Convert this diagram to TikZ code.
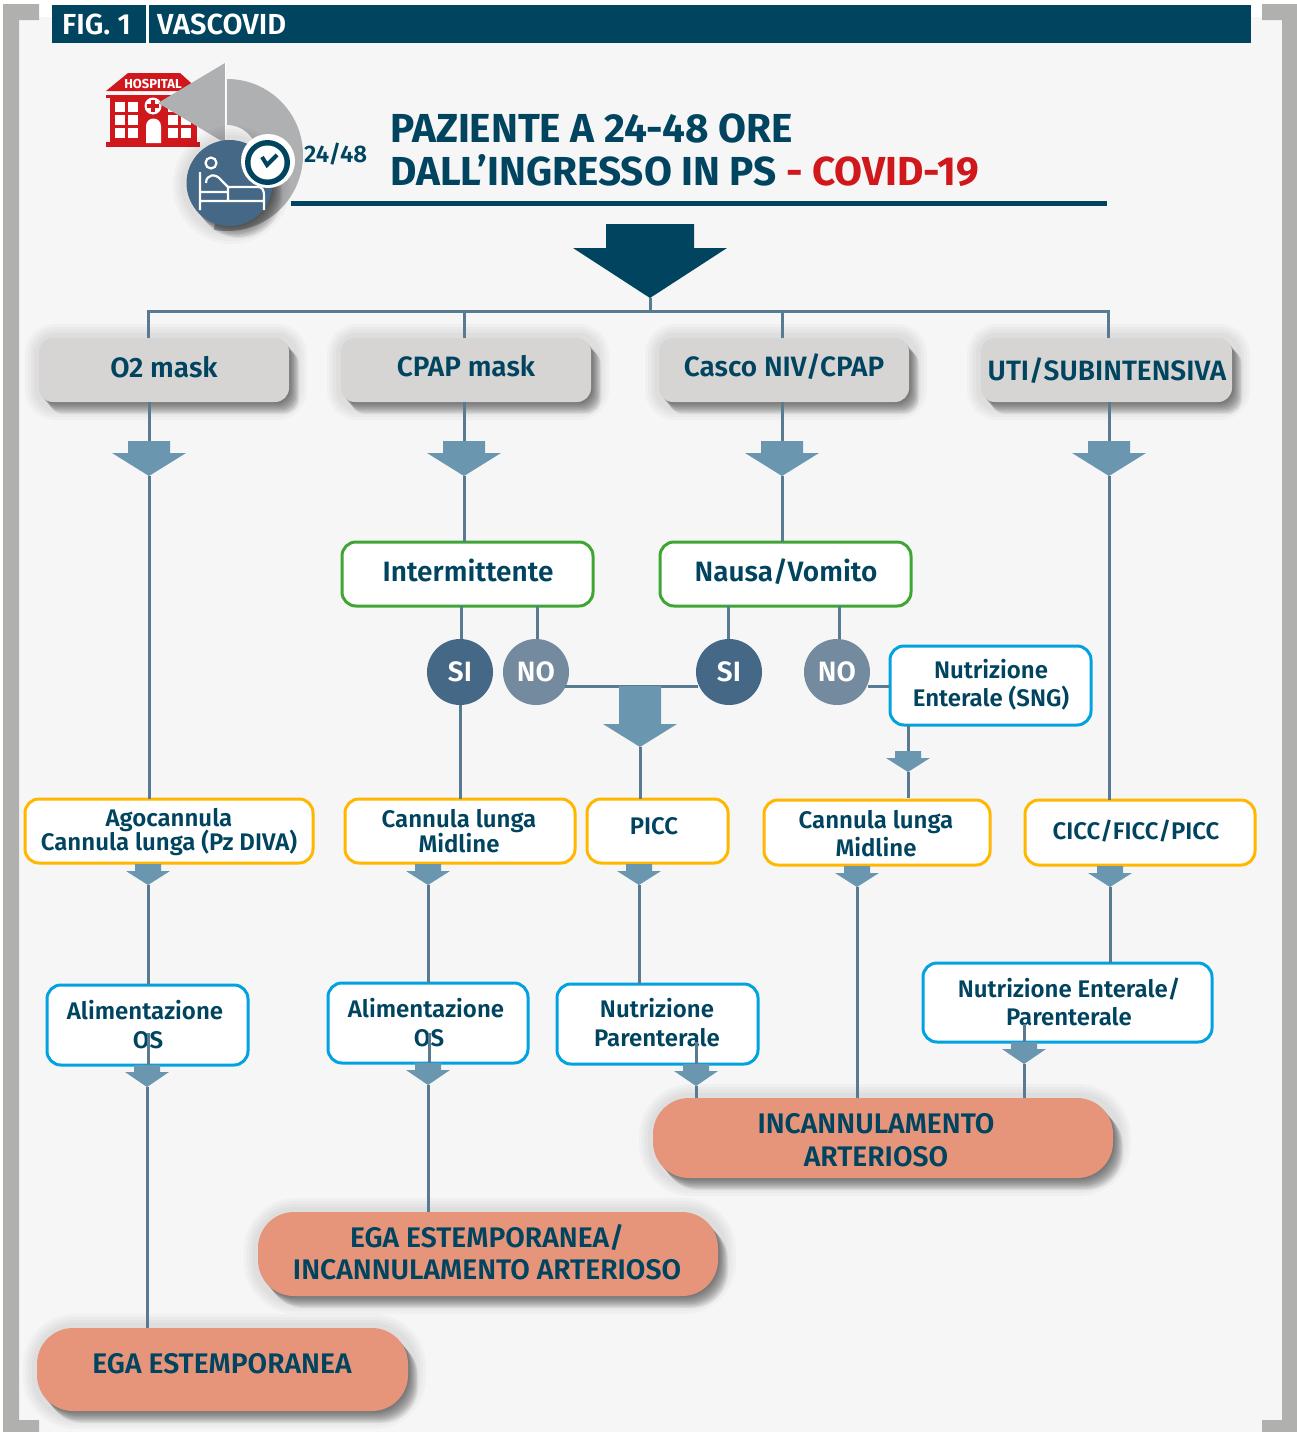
\documentclass[tikz,border=0pt]{standalone}
\usepackage{fontspec}
\setmainfont{Fira Sans}[BoldFont={Fira Sans SemiBold}]
\newfontfamily\heavy{Fira Sans Bold}
\lineskiplimit=-100pt
\definecolor{navy}{HTML}{004460}
\definecolor{conn}{HTML}{587B92}
\definecolor{barrow}{HTML}{6A96AF}
\definecolor{bgpage}{HTML}{F6F6F6}
\definecolor{bracket}{HTML}{B0B0AE}
\definecolor{greybox}{HTML}{D6D5D4}
\definecolor{salmon}{HTML}{E6957A}
\definecolor{okgreen}{HTML}{3FA535}
\definecolor{sky}{HTML}{00A3E0}
\definecolor{amber}{HTML}{FFB700}
\definecolor{circA}{HTML}{446885}
\definecolor{circB}{HTML}{748A9F}
\definecolor{hosp}{HTML}{CF171C}
\definecolor{arrowgrey}{HTML}{AEB0B1}
\newcommand{\fs}[2]{\gdef\curfs{\fontsize{#1}{#2}\selectfont}}
\fs{24}{24}
\tikzset{
  x=1pt,y=-1pt,
  glowlayer/.style={preaction={draw=black,fill=none,draw opacity=.022,line width=#1,transform canvas={shift={(2pt,-2pt)}}}},
  droplayer/.style 2 args={preaction={draw=none,fill=black,fill opacity=.055,transform canvas={shift={(#1pt,-#2pt)}}}},
  softshadow/.style={glowlayer=32pt,glowlayer=26pt,glowlayer=20pt,glowlayer=14pt,
    droplayer={10}{12},droplayer={9}{10.8},droplayer={8}{9.6},droplayer={7}{8.4},droplayer={6}{7.2},
    droplayer={5}{6},droplayer={4}{4.8},droplayer={3}{3.6},droplayer={2}{2.4},droplayer={1}{1.2}},
  anybox/.style={rectangle,rounded corners=14pt,outer sep=0pt,inner sep=0pt,line width=3pt,fill=white},
  greyb/.style={anybox,draw=none,fill=greybox,softshadow},
  greenb/.style={anybox,draw=okgreen},
  skyb/.style={anybox,draw=sky},
  amberb/.style={anybox,draw=amber},
  salmonb/.style={anybox,draw=none,fill=salmon,rounded corners=36pt,softshadow},
  lab/.style={align=center,inner sep=0pt,text=navy,font=\bfseries\curfs},
  wire/.style={draw=conn,line width=3pt},
  roundA/.style={circle,minimum size=66pt,inner sep=0pt,outer sep=0pt,fill=circA,text=white,font=\bfseries\fontsize{28}{28}\selectfont},
  roundB/.style={roundA,fill=circB},
  headlab/.style={anchor=base west,inner sep=0pt,text=white,font=\bfseries\fontsize{29}{29}\selectfont},
  titlelab/.style={anchor=base west,inner sep=0pt,text=navy,font=\fontsize{40.5}{40.5}\heavy},
}
% \tbox{style}{name}(x1,y1,x2,y2)(tx,ty){text}
\def\tbox#1#2(#3,#4,#5,#6)(#7,#8)#9{%
  \node[#1,minimum width={(#5-#3)*1pt},minimum height={(#6-#4)*1pt}] (#2) at ({(#3+#5)/2},{(#4+#6)/2}) {};
  \node[lab] (#2-t) at (#7,#8) {#9};}
% \barr[color]{name}{cx}{top}{shoulder}{tip}{shaft half}{head half}
\newcommand{\barr}[8][barrow]{%
  \fill[#1] ({#3-#7},#4) -- ({#3+#7},#4) -- ({#3+#7},#5) -- ({#3+#8},#5) -- (#3,#6) -- ({#3-#8},#5) -- ({#3-#7},#5) -- cycle;
  \coordinate (#2) at (#3,#4);
  \coordinate (#2-tip) at (#3,#6);}
\begin{document}
\begin{tikzpicture}
\useasboundingbox (0,0) rectangle (1297,1432);
\fill[white] (0,0) rectangle (1297,1432);
\fill[bgpage] (19,17) rectangle (1282,1432);
% corner brackets
\fill[bracket] (39,4) -- (3,4) -- (3,1432) -- (39,1432) -- (39,1420) -- (19,1420) -- (19,20) -- (39,20) -- cycle;
\fill[bracket] (1262,4) -- (1297,4) -- (1297,1432) -- (1262,1432) -- (1262,1420) -- (1282,1420) -- (1282,20) -- (1262,20) -- cycle;
% header
\fill[navy] (52,5) rectangle (1251,43);
\fill[white] (146,5) rectangle (148.5,43);
\node[headlab] (figlab) at (62,34) {FIG. 1};
\node[headlab] (figname) at (157,34) {VASCOVID};
% hospital icon
\fill[hosp] (106,91) -- (128,73) -- (180,73) -- (200,91) -- cycle;
\fill[hosp] (106,95) rectangle (200,98);
\fill[hosp] (110,98) rectangle (197,143);
\fill[hosp] (106,142) rectangle (200,147);
\foreach \wx in {115,128,168,181}{\foreach \wy in {102,115,128}{\fill[white] (\wx,\wy) rectangle +(10,10);}}
\fill[white] (146,143) -- (146,126) arc (180:0:7.5pt) -- (161,143) -- cycle;
\fill[white] (153,106) circle[radius=8.5pt];
\fill[hosp] (151,100) rectangle (155,112);
\fill[hosp] (147,104) rectangle (159,108);
\node[inner sep=0pt,text=white,font=\fontsize{13}{13}\heavy] (hosplab) at (153,84) {HOSPITAL};
% return arrow
\fill[arrowgrey] (227,79) arc (90:-100:76pt) -- (221.8,184.5) arc (-100:90:30pt) -- cycle;
\fill[arrowgrey] (225,63) -- (225,143) -- (158,103) -- cycle;
\draw[white,line width=1pt] (225.7,63) -- (225.7,143);
% bed disc
\node[circle,minimum size=86pt,inner sep=0pt,fill=circA,softshadow] (bed) at (229.5,183) {};
\draw[white,line width=2.2pt] (211,163) circle[radius=5.5pt];
\draw[white,line width=2.2pt] (200,172) -- (200,210) (200,192) -- (228,192) (200,201) -- (264,201) (228,187) -- (228,201) (228,187) -- (258,187) .. controls (262,187) and (264,190) .. (264,195) -- (264,210);
\draw[white,line width=2.2pt] (206,183) .. controls (206,174) and (216,173) .. (221,180) -- (228,187);
% clock
\fill[white] (268,161) circle[radius=27pt];
\fill[navy] (267.5,162.5) circle[radius=22.5pt];
\fill[white] (267.5,162.5) circle[radius=17pt];
\draw[navy,line width=4pt] (262,157) -- (267,165) -- (277,155);
\node[anchor=base west,inner sep=0pt,text=navy,font=\bfseries\fontsize{24}{24}\selectfont] (hours) at (304,162) {24/48};
% title
\node[titlelab] (title1) at (390,142) {PAZIENTE A 24-48 ORE};
\node[titlelab] (title2) at (390,185) {DALL’INGRESSO IN PS \textcolor{hosp}{- COVID-19}};
\fill[navy] (291,201) rectangle (1107,206);
\barr[navy]{big}{650}{224}{248}{298}{44}{77}
% top row
\fs{28}{28}
\tbox{greyb}{o2}(39,338,289,402)(164,367){O2 mask}
\tbox{greyb}{cpap}(341,338,591,402)(466,366){CPAP mask}
\tbox{greyb}{casco}(659,338,909,402)(784,367){Casco NIV/CPAP}
\tbox{greyb}{uti}(981,338,1232,402)(1107,371){UTI/SUBINTENSIVA}
\coordinate (busL) at (148,311);
\coordinate (busC) at (464,311);
\coordinate (busM) at (782,311);
\coordinate (busR) at (1108,311);
\draw[wire] (o2.north -| busL) -- (busL) -- (busR) -- (uti.north -| busR);
\draw[wire] (busC) -- (cpap.north -| busC);
\draw[wire] (busM) -- (casco.north -| busM);
\draw[wire] (big-tip) -- (big-tip |- busL);
% first arrows
\barr{a1}{149}{441}{453}{476}{21}{37}
\barr{a2}{464}{441}{453}{476}{21}{37}
\barr{a3}{782}{441}{453}{476}{21}{37}
\barr{a4}{1109}{441}{453}{476}{21}{37}
\draw[wire] (o2.south -| a1) -- (a1);
\draw[wire] (cpap.south -| a2) -- (a2);
\draw[wire] (casco.south -| a3) -- (a3);
\draw[wire] (uti.south -| a4) -- (a4);
% decision boxes
\fs{28}{28}
\tbox{greenb}{inter}(342,542,593,606)(468,570){Intermittente}
\tbox{greenb}{nausa}(660,542,911,606)(786,572){Nausa/Vomito}
\draw[wire] (a2-tip) -- (inter.north -| a2-tip);
\draw[wire] (a3-tip) -- (nausa.north -| a3-tip);
\node[roundA] (si1) at (460,672) {SI};
\node[roundB] (no1) at (536,672) {NO};
\node[roundA] (si2) at (729,672) {SI};
\node[roundB] (no2) at (837,672) {NO};
\coordinate (i1) at (461,606); \coordinate (i2) at (537,606);
\coordinate (n1) at (728,606); \coordinate (n2) at (839,606);
\draw[wire] (i1) -- (i1 |- si1.north);
\draw[wire] (i2) -- (i2 |- no1.north);
\draw[wire] (n1) -- (n1 |- si2.north);
\draw[wire] (n2) -- (n2 |- no2.north);
% SNG box
\fs{24}{28}
\tbox{skyb}{sng}(890,646,1091,725)(991,685){Nutrizione\\Enterale (SNG)}
% merge
\coordinate (mergeL) at (565,686);
\coordinate (mergeR) at (698,686);
\draw[wire] (mergeL) -- (mergeR);
\barr{a5}{640}{686}{724}{747}{21}{37}
\coordinate (noR) at (868,686);
\draw[wire] (noR) -- (noR -| sng.west);
\barr{a6}{908}{751}{758}{772}{13}{22}
\draw[wire] (sng.south -| a6) -- (a6);
% access devices
\fs{24}{24.5}
\tbox{amberb}{ago}(25,799,313,863)(169,832){Agocannula\\Cannula lunga (Pz DIVA)}
\tbox{amberb}{cl1}(345,799,575,863)(459,831){Cannula lunga\\Midline}
\tbox{amberb}{picc}(587,799,728,863)(654,826){PICC}
\fs{24}{28}
\tbox{amberb}{cl2}(764,800,990,865)(876,834){Cannula lunga\\Midline}
\tbox{amberb}{cicc}(1025,800,1255,865)(1136,831){CICC/FICC/PICC}
\draw[wire] (a1-tip) -- (a1-tip |- ago.north);
\draw[wire] (si1.south) -- (si1.south |- cl1.north);
\draw[wire] (a5-tip) -- (a5-tip |- picc.north);
\draw[wire,shorten >=2pt] (a6-tip) -- (a6-tip |- cl2.north);
\draw[wire] (a4-tip) -- (a4-tip |- cicc.north);
% small arrows under devices
\barr{b1}{148}{864}{871}{885}{13}{22}
\barr{b2}{428}{864}{871}{885}{13}{22}
\barr{b3}{639}{864}{871}{885}{13}{22}
\barr{b4}{857}{866}{873}{887}{13}{22}
\barr{b5}{1110}{866}{873}{887}{13}{22}
% nutrition boxes
\fs{24}{29}
\tbox{skyb}{ali1}(47,985,248,1065)(145,1025){Alimentazione\\\hspace*{6pt}OS}
\tbox{skyb}{ali2}(328,983,528,1063)(426,1023){Alimentazione\\\hspace*{6pt}OS}
\tbox{skyb}{npar}(557,984,758,1064)(657,1023){Nutrizione\\Parenterale}
\fs{24}{28}
\tbox{skyb}{nent}(923,963,1212,1042)(1069,1001.5){Nutrizione Enterale/\\Parenterale}
\draw[wire] (b1-tip) -- (b1-tip |- ali1.north);
\draw[wire] (b2-tip) -- (b2-tip |- ali2.north);
\draw[wire] (b3-tip) -- (b3-tip |- npar.north);
\draw[wire] (b5-tip) -- (b5-tip |- nent.north);
% outcome boxes
\fs{28.3}{32.5}
\tbox{salmonb}{inc}(653,1098,1113,1178)(876,1140){INCANNULAMENTO\\ARTERIOSO}
\tbox{salmonb}{egainc}(258,1212,718,1296)(487,1252){EGA ESTEMPORANEA/\\INCANNULAMENTO ARTERIOSO}
\tbox{salmonb}{ega}(37,1328,408,1411)(222,1364){EGA ESTEMPORANEA}
\draw[wire] (b4-tip) -- (b4-tip |- inc.north);
% small arrows under nutrition boxes, with stems crossing the labels
\coordinate (s1) at (148,1033);
\coordinate (s2) at (429,1033);
\coordinate (s3) at (696,1042);
\coordinate (s4) at (1024,1024);
\draw[wire] (s1) -- (s1 |- ali1.south);
\draw[wire] (s2) -- (s2 |- ali2.south);
\draw[wire] (s3) -- (s3 |- npar.south);
\draw[wire] (s4) -- (s4 |- nent.south);
\barr{c1}{147}{1065}{1072}{1087}{13}{22}
\barr{c2}{428}{1063}{1070}{1085}{13}{22}
\barr{c3}{696}{1064}{1071}{1086}{13}{22}
\barr{c4}{1024}{1042}{1049}{1064}{13}{22}
\draw[wire] (c1-tip) -- (c1-tip |- ega.north);
\draw[wire] (c2-tip) -- (c2-tip |- egainc.north);
\draw[wire] (c3-tip) -- (c3-tip |- inc.north);
\draw[wire] (c4-tip) -- (c4-tip |- inc.north);
\end{tikzpicture}
\end{document}
